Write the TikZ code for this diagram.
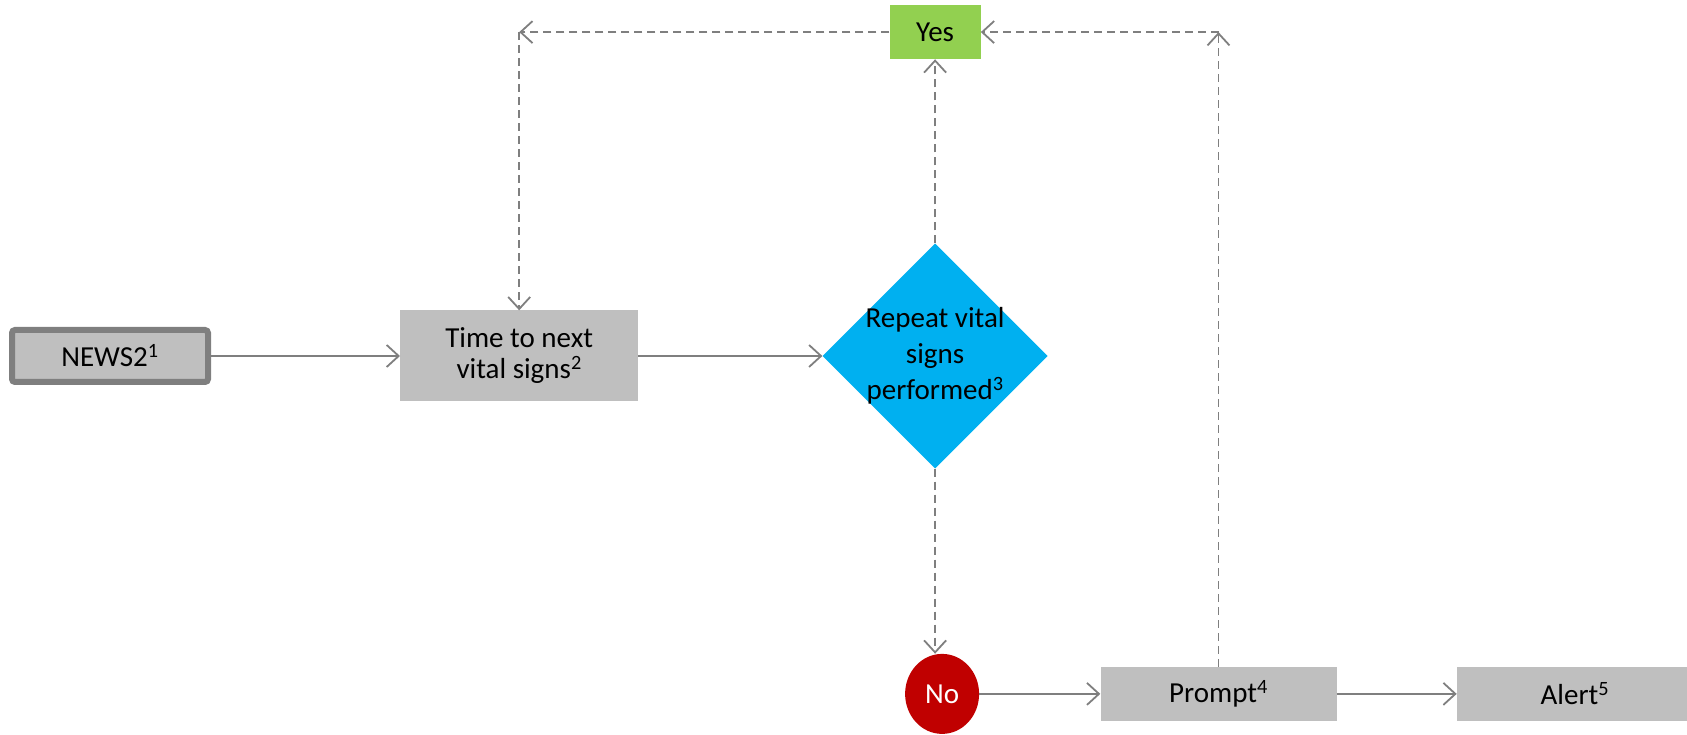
\documentclass[tikz,border=0pt]{standalone}
\usepackage{fontspec}
\setmainfont{Carlito}
\usepackage{xcolor}
\usepackage{tikz}
\usetikzlibrary{positioning,shapes,arrows.meta}

\definecolor{boxgray}{HTML}{BFBFBF}
\definecolor{linegray}{HTML}{7F7F7F}
\definecolor{decblue}{HTML}{00B0F0}
\definecolor{yesgreen}{HTML}{92D050}
\definecolor{nored}{HTML}{C00000}

\begin{document}
\begin{tikzpicture}[
    x=1pt, y=1pt,
    node distance=185pt,
    font=\fontsize{29}{35}\selectfont,
    box/.style={fill=boxgray, minimum width=236pt, minimum height=54pt, align=center, inner sep=0pt},
    arrow/.style={-{Straight Barb[length=12pt,width=22pt]}, draw=linegray, line width=1.8pt},
    dasharrow/.style={arrow, dash pattern=on 8pt off 5pt}
]
\useasboundingbox (0,0) rectangle (1687,734);

\node[box, draw=linegray, line width=6pt, rounded corners=3pt, minimum width=196pt, minimum height=52pt] (news) at (110,378) {NEWS2\textsuperscript{1}};
\node[box, right=189pt of news, minimum width=238pt, minimum height=91pt] (time) {Time to next\\[-4pt]vital signs\textsuperscript{2}};
\node[diamond, aspect=1, fill=decblue, minimum width=225pt, minimum height=225pt, inner sep=-10pt, align=center, right=184pt of time] (dia) {Repeat vital\\[1pt]signs\\[1pt]performed\textsuperscript{3}};
\node[box, fill=yesgreen, minimum width=91pt, above=184pt of dia] (yes) {Yes};
\node[ellipse, fill=nored, text=white, minimum width=74pt, minimum height=80pt, inner sep=0pt, below=185pt of dia, xshift=7pt] (no) {No};
\node[box, right=121pt of no] (prompt) {Prompt\textsuperscript{4}};
\node[box, right=120pt of prompt] (alert) {Alert\textsuperscript{5}};

\coordinate (c1) at (time.north |- yes.west);
\coordinate (c2) at (prompt.north |- yes.east);

\draw[arrow] (news) -- (time);
\draw[arrow] (time) -- (dia);
\draw[arrow] (no) -- (prompt);
\draw[arrow] (prompt) -- (alert);
\draw[dasharrow] (dia) -- (yes);
\draw[dasharrow] (dia) -- (dia.south |- no.north);
\draw[dasharrow] (yes) -- (c1);
\draw[dasharrow] (c1) -- (time);
\draw[dasharrow] (prompt) -- (c2);
\draw[dasharrow] (c2) -- (yes);

\end{tikzpicture}
\end{document}
